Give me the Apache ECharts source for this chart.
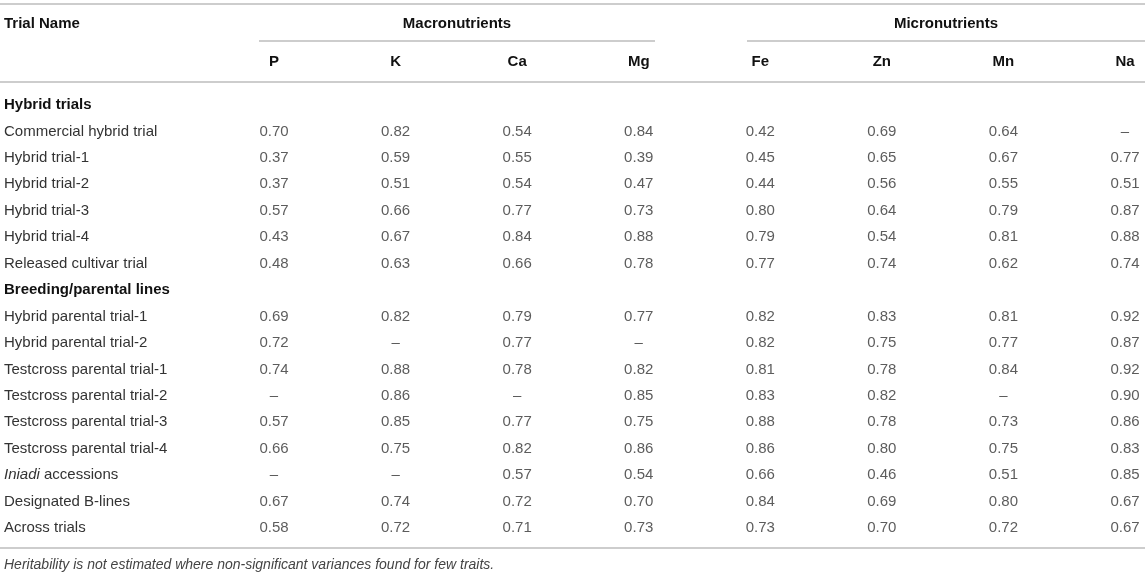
<!DOCTYPE html>
<html>
<head>
<meta charset="utf-8">
<script src="https://cdn.jsdelivr.net/npm/echarts@6/dist/echarts.min.js"></script>
<style>
  html, body { margin: 0; padding: 0; background: #fff; }
  #chart { width: 1145px; height: 577px; }
</style>
</head>
<body>
<div id="chart"></div>
<script>
// rows of the table, group titles included (they carry no values)
var rows = [
  'Hybrid trials',
  'Commercial hybrid trial', 'Hybrid trial-1', 'Hybrid trial-2', 'Hybrid trial-3',
  'Hybrid trial-4', 'Released cultivar trial',
  'Breeding/parental lines',
  'Hybrid parental trial-1', 'Hybrid parental trial-2',
  'Testcross parental trial-1', 'Testcross parental trial-2',
  'Testcross parental trial-3', 'Testcross parental trial-4',
  'Iniadi accessions', 'Designated B-lines', 'Across trials'
];
var groupRows = ['Hybrid trials', 'Breeding/parental lines'];

var nutrients = ['P', 'K', 'Ca', 'Mg', 'Fe', 'Zn', 'Mn', 'Na'];

// heritability values, one per data row (null = not estimated)
var P  = [0.70, 0.37, 0.37, 0.57, 0.43, 0.48, 0.69, 0.72, 0.74, null, 0.57, 0.66, null, 0.67, 0.58];
var K  = [0.82, 0.59, 0.51, 0.66, 0.67, 0.63, 0.82, null, 0.88, 0.86, 0.85, 0.75, null, 0.74, 0.72];
var Ca = [0.54, 0.55, 0.54, 0.77, 0.84, 0.66, 0.79, 0.77, 0.78, null, 0.77, 0.82, 0.57, 0.72, 0.71];
var Mg = [0.84, 0.39, 0.47, 0.73, 0.88, 0.78, 0.77, null, 0.82, 0.85, 0.75, 0.86, 0.54, 0.70, 0.73];
var Fe = [0.42, 0.45, 0.44, 0.80, 0.79, 0.77, 0.82, 0.82, 0.81, 0.83, 0.88, 0.86, 0.66, 0.84, 0.73];
var Zn = [0.69, 0.65, 0.56, 0.64, 0.54, 0.74, 0.83, 0.75, 0.78, 0.82, 0.78, 0.80, 0.46, 0.69, 0.70];
var Mn = [0.64, 0.67, 0.55, 0.79, 0.81, 0.62, 0.81, 0.77, 0.84, null, 0.73, 0.75, 0.51, 0.80, 0.72];
var Na = [null, 0.77, 0.51, 0.87, 0.88, 0.74, 0.92, 0.87, 0.92, 0.90, 0.86, 0.83, 0.85, 0.67, 0.67];

var columns = [P, K, Ca, Mg, Fe, Zn, Mn, Na];

var FONT = '"Liberation Sans", Arial, Helvetica, sans-serif';

// build cells: [nutrient, row, text]
var dataRows = rows.filter(function (r) { return groupRows.indexOf(r) < 0; });
var cells = [];
columns.forEach(function (col, c) {
  col.forEach(function (v, i) {
    cells.push([nutrients[c], dataRows[i], v == null ? '–' : v.toFixed(2)]);
  });
});

var chart = echarts.init(document.getElementById('chart'));
chart.setOption({
  animation: false,
  textStyle: { fontFamily: FONT },
  grid: { left: 274, right: 20, top: 105, bottom: 49 },
  xAxis: {
    type: 'category',
    data: nutrients,
    position: 'top',
    boundaryGap: false,
    axisLine: { show: false },
    axisTick: { show: false },
    splitLine: { show: false },
    axisLabel: { margin: 36, fontSize: 15, fontWeight: 'bold', color: '#111', fontFamily: FONT }
  },
  yAxis: {
    type: 'category',
    data: rows,
    inverse: true,
    boundaryGap: false,
    axisLine: { show: false },
    axisTick: { show: false },
    splitLine: { show: false },
    axisLabel: {
      align: 'left',
      margin: 270,
      fontSize: 15,
      color: '#333',
      fontFamily: FONT,
      formatter: function (v) {
        if (groupRows.indexOf(v) >= 0) return '{b|' + v + '}';
        if (v === 'Iniadi accessions') return '{i|Iniadi} accessions';
        return v;
      },
      rich: {
        b: { fontWeight: 'bold', color: '#111', fontSize: 15, fontFamily: FONT },
        i: { fontStyle: 'italic', color: '#333', fontSize: 15, fontFamily: FONT }
      }
    }
  },
  series: [{
    type: 'scatter',
    data: cells,
    symbolSize: 1,
    itemStyle: { color: 'rgba(0,0,0,0)' },
    label: {
      show: true,
      position: 'inside',
      fontSize: 15,
      color: '#333',
      fontFamily: FONT,
      formatter: function (p) { return p.value[2]; }
    }
  }],
  graphic: [
    { type: 'line', shape: { x1: 0, y1: 4, x2: 1145, y2: 4 }, style: { stroke: '#bdbdbd', lineWidth: 1.5 } },
    { type: 'line', shape: { x1: 259, y1: 41, x2: 655, y2: 41 }, style: { stroke: '#bdbdbd', lineWidth: 1.5 } },
    { type: 'line', shape: { x1: 747, y1: 41, x2: 1145, y2: 41 }, style: { stroke: '#bdbdbd', lineWidth: 1.5 } },
    { type: 'line', shape: { x1: 0, y1: 82, x2: 1145, y2: 82 }, style: { stroke: '#bdbdbd', lineWidth: 1.5 } },
    { type: 'line', shape: { x1: 0, y1: 548, x2: 1145, y2: 548 }, style: { stroke: '#bdbdbd', lineWidth: 1.5 } },
    { type: 'text', x: 4, y: 24, style: { text: 'Trial Name', font: 'bold 15px ' + FONT, fill: '#111', verticalAlign: 'middle' } },
    { type: 'text', x: 457, y: 24, style: { text: 'Macronutrients', font: 'bold 15px ' + FONT, fill: '#111', align: 'center', verticalAlign: 'middle' } },
    { type: 'text', x: 946, y: 24, style: { text: 'Micronutrients', font: 'bold 15px ' + FONT, fill: '#111', align: 'center', verticalAlign: 'middle' } },
    { type: 'text', x: 4, y: 565, style: { text: 'Heritability is not estimated where non-significant variances found for few traits.', font: 'italic 14px ' + FONT, fill: '#444', verticalAlign: 'middle' } }
  ]
});
</script>
</body>
</html>
